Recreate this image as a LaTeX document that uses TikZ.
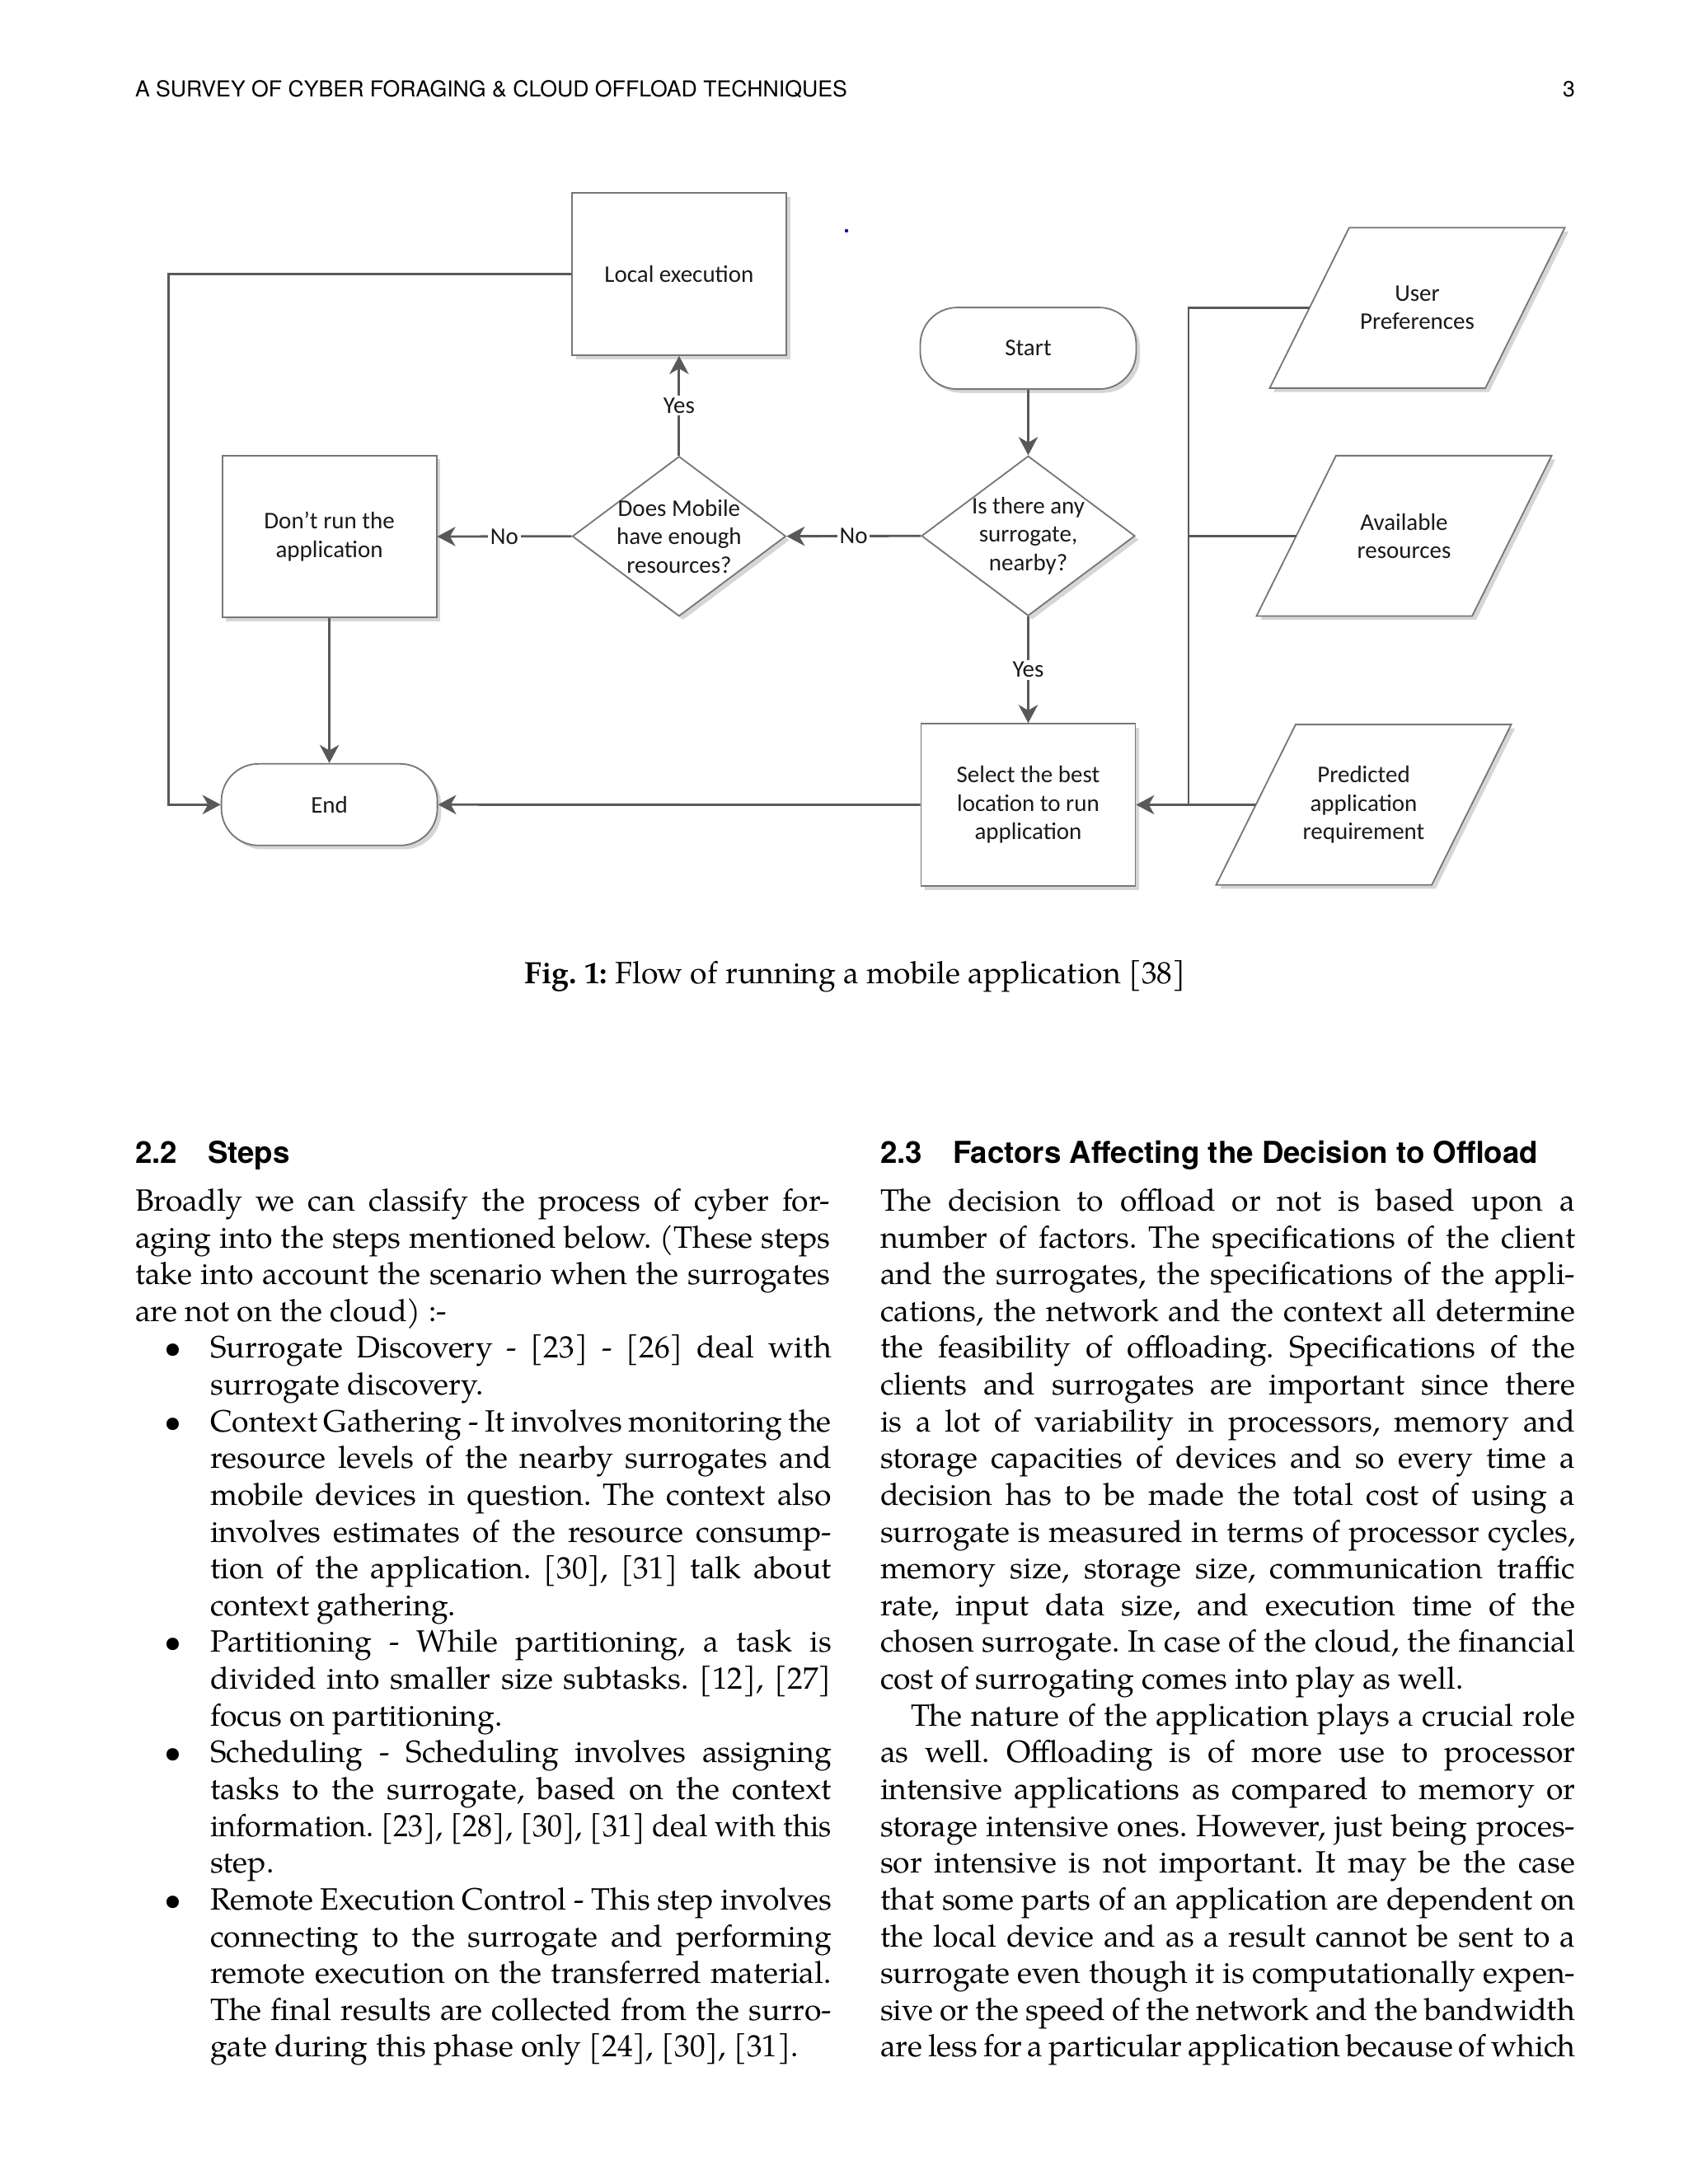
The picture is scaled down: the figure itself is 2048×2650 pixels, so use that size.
\documentclass[tikz,border=0pt]{standalone}
\usepackage{graphicx}
\usepackage{fontspec}
\setmainfont{TeX Gyre Pagella}
\newfontfamily\diafont{Carlito}
\newfontfamily\helfont{TeX Gyre Heros}
\usetikzlibrary{shapes.geometric,arrows.meta,shadows}
\definecolor{lineC}{HTML}{595959}
\definecolor{bordC}{HTML}{777777}
\definecolor{txtC}{HTML}{1A1A1A}
\definecolor{shadC}{HTML}{D6D6D6}
\frenchspacing
\tikzset{
  dfont/.style={font=\diafont\fontsize{8.7}{10.3}\selectfont, text=txtC},
  shad/.style={drop shadow={shadow xshift=1.4pt,shadow yshift=-1.4pt,fill=shadC,opacity=1}},
  procbox/.style={draw=bordC, line width=0.55pt, fill=white, shad, minimum width=78pt, minimum height=59pt, inner sep=0pt, align=center, dfont},
  termbox/.style={draw=bordC, line width=0.55pt, fill=white, shad, rounded corners=13.5pt, minimum width=78.6pt, minimum height=29.7pt, inner sep=0pt, align=center, dfont},
  decbox/.style={diamond, draw=bordC, line width=0.55pt, fill=white, shad, minimum width=77.7pt, minimum height=58.2pt, inner sep=0pt},
  dtxt/.style={align=center, dfont, inner sep=0pt},
  parabox/.style={draw=bordC, line width=0.55pt, fill=white, shad},
  conn/.style={draw=lineC, line width=0.85pt, -{Stealth[length=6.6pt,width=7pt,inset=2pt]}},
  plainconn/.style={draw=lineC, line width=0.85pt},
  lbl/.style={dfont, fill=white, inner sep=0.8pt},
  txtline/.style={anchor=base west, inner sep=0pt, outer sep=0pt, font=\fontsize{11.2}{13.4}\selectfont},
  bul/.style={anchor=base, inner sep=0pt, outer sep=0pt, font=\fontsize{11.2}{13.4}\selectfont},
  hd/.style={anchor=base west, inner sep=0pt, outer sep=0pt, font=\helfont\bfseries\fontsize{11}{13}\selectfont},
  hdr/.style={inner sep=0pt, outer sep=0pt, font=\helfont\fontsize{8}{9}\selectfont}
}
\newcommand\tl[6]{%
  \pgfmathsetmacro\yy{1469.4+44.63*#3}%
  \node[txtline] (#1) at (#2,\yy) {\makebox[#5][#4]{#6}};}
\newcommand\bl[2]{%
  \pgfmathsetmacro\yy{1469.4+44.63*#2}%
  \node[bul] (#1) at (209.5,\yy) {\textbullet};}
\newcommand\para[4]{%
  \draw[parabox] ({#2-82.6},{#3-97.3}) -- ({#2+179},{#3-97.3}) -- ({#2+82.6},{#3+97.3}) -- ({#2-179},{#3+97.3}) -- cycle;
  \coordinate (#1w) at ({#2-130.8},#3);
  \node[dtxt] (#1) at (#2,#3) {#4};}
\begin{document}
\begin{tikzpicture}[x=0.3pt,y=-0.3pt]
\useasboundingbox (0,0) rectangle (2048,2650);
\fill[white] (0,0) rectangle (2048,2650);

% header
\node[hdr, anchor=base west] (hdrtxt) at (164,117) {A SURVEY OF CYBER FORAGING \& CLOUD OFFLOAD TECHNIQUES};
\node[hdr, anchor=base east] (pgnum) at (1911,117) {3};

% ---------- flowchart ----------
\node[procbox] (local) at (823.9,332.6) {Local execution};
\node[procbox] (dont) at (399.6,651) {Don’t run the\\application};
\node[procbox] (select) at (1247.5,976.5) {Select the best\\location to run\\application};
\node[termbox] (start) at (1247.5,422.6) {Start};
\node[termbox] (end) at (399.6,976.3) {End};
\node[decbox] (d1) at (823.9,650.7) {};
\node[dtxt] (d1t) at (d1) {Does Mobile\\have enough\\resources?};
\node[decbox] (d2) at (1247.5,650.2) {};
\node[dtxt] (d2t) at (d2) {Is there any\\surrogate,\\nearby?};

\para{up}{1719.5}{373.6}{User\\Preferences}
\para{av}{1703.5}{650.2}{Available\\resources}
\para{pr}{1654.5}{976.4}{Predicted\\application\\requirement}

\coordinate (bus) at (1442,0);
\coordinate (loopx) at (204.5,0);

\draw[conn] (start.south) -- (d2.north);
\draw[conn] (d2.west) -- node[lbl] (no2) {No} (d1.east);
\draw[conn] (d1.west) -- node[lbl] (no1) {No} (dont.east);
\draw[conn] (d1.north) -- node[lbl] (yes1) {Yes} (local.south);
\draw[conn] (d2.south) -- node[lbl] (yes2) {Yes} (select.north);
\draw[conn] (dont.south) -- (end.north);
\draw[conn] (select.west) -- (end.east);
\draw[conn] (local.west) -- (local.west -| loopx) |- (end.west);
\draw[plainconn] (upw) -- (upw -| bus) -- (bus |- prw);
\draw[plainconn] (avw) -- (avw -| bus);
\draw[conn] (prw) -- (select.east);

\fill[blue!80!black] (1027,280) circle (2.2);

% caption
\node[anchor=base, inner sep=0pt, font=\fontsize{11.2}{13}\selectfont] (caption) at (1037.5,1193) {\textbf{Fig. 1:} Flow of running a mobile application [38]};

% ---------- headings ----------
\node[hd] (h22n) at (164,1411.7) {2.2};
\node[hd] (h22) at (252,1411.7) {Steps};
\node[hd] (h23n) at (1068,1411.7) {2.3};
\node[hd] (h23) at (1156,1411.7) {Factors Affecting the Decision to Offload};

% ---------- left column ----------
\tl{L0}{164}{0}{s}{253pt}{Broadly we can classify the process of cyber for-}
\tl{L1}{164}{1}{s}{253pt}{aging into the steps mentioned below. (These steps}
\tl{L2}{164}{2}{s}{253pt}{take into account the scenario when the surrogates}
\tl{L3}{164}{3}{l}{253pt}{are not on the cloud) :-}
\bl{B1}{4}
\tl{L4}{255.2}{4}{s}{226.1pt}{Surrogate Discovery - [23] - [26] deal with}
\tl{L5}{255.2}{5}{l}{226.1pt}{surrogate discovery.}
\bl{B2}{6}
\tl{L6}{255.2}{6}{s}{226.1pt}{Context Gathering - It involves monitoring the}
\tl{L7}{255.2}{7}{s}{226.1pt}{resource levels of the nearby surrogates and}
\tl{L8}{255.2}{8}{s}{226.1pt}{mobile devices in question. The context also}
\tl{L9}{255.2}{9}{s}{226.1pt}{involves estimates of the resource consump-}
\tl{L10}{255.2}{10}{s}{226.1pt}{tion of the application. [30], [31] talk about}
\tl{L11}{255.2}{11}{l}{226.1pt}{context gathering.}
\bl{B3}{12}
\tl{L12}{255.2}{12}{s}{226.1pt}{Partitioning - While partitioning, a task is}
\tl{L13}{255.2}{13}{s}{226.1pt}{divided into smaller size subtasks. [12], [27]}
\tl{L14}{255.2}{14}{l}{226.1pt}{focus on partitioning.}
\bl{B4}{15}
\tl{L15}{255.2}{15}{s}{226.1pt}{Scheduling - Scheduling involves assigning}
\tl{L16}{255.2}{16}{s}{226.1pt}{tasks to the surrogate, based on the context}
\tl{L17}{255.2}{17}{l}{226.1pt}{\resizebox{226.1pt}{\height}{information. [23], [28], [30], [31] deal with this}}
\tl{L18}{255.2}{18}{l}{226.1pt}{step.}
\bl{B5}{19}
\tl{L19}{255.2}{19}{s}{226.1pt}{Remote Execution Control - This step involves}
\tl{L20}{255.2}{20}{s}{226.1pt}{connecting to the surrogate and performing}
\tl{L21}{255.2}{21}{s}{226.1pt}{remote execution on the transferred material.}
\tl{L22}{255.2}{22}{s}{226.1pt}{The final results are collected from the surro-}
\tl{L23}{255.2}{23}{l}{226.1pt}{gate during this phase only [24], [30], [31].}

% ---------- right column ----------
\tl{R0}{1068}{0}{s}{253pt}{The decision to offload or not is based upon a}
\tl{R1}{1068}{1}{s}{253pt}{number of factors. The specifications of the client}
\tl{R2}{1068}{2}{s}{253pt}{and the surrogates, the specifications of the appli-}
\tl{R3}{1068}{3}{s}{253pt}{cations, the network and the context all determine}
\tl{R4}{1068}{4}{s}{253pt}{the feasibility of offloading. Specifications of the}
\tl{R5}{1068}{5}{s}{253pt}{clients and surrogates are important since there}
\tl{R6}{1068}{6}{s}{253pt}{is a lot of variability in processors, memory and}
\tl{R7}{1068}{7}{s}{253pt}{storage capacities of devices and so every time a}
\tl{R8}{1068}{8}{s}{253pt}{decision has to be made the total cost of using a}
\tl{R9}{1068}{9}{s}{253pt}{surrogate is measured in terms of processor cycles,}
\tl{R10}{1068}{10}{s}{253pt}{memory size, storage size, communication traffic}
\tl{R11}{1068}{11}{s}{253pt}{rate, input data size, and execution time of the}
\tl{R12}{1068}{12}{s}{253pt}{chosen surrogate. In case of the cloud, the financial}
\tl{R13}{1068}{13}{l}{253pt}{cost of surrogating comes into play as well.}
\tl{R14}{1105}{14}{s}{241.9pt}{The nature of the application plays a crucial role}
\tl{R15}{1068}{15}{s}{253pt}{as well. Offloading is of more use to processor}
\tl{R16}{1068}{16}{s}{253pt}{intensive applications as compared to memory or}
\tl{R17}{1068}{17}{s}{253pt}{storage intensive ones. However, just being proces-}
\tl{R18}{1068}{18}{s}{253pt}{sor intensive is not important. It may be the case}
\tl{R19}{1068}{19}{s}{253pt}{that some parts of an application are dependent on}
\tl{R20}{1068}{20}{s}{253pt}{the local device and as a result cannot be sent to a}
\tl{R21}{1068}{21}{s}{253pt}{surrogate even though it is computationally expen-}
\tl{R22}{1068}{22}{s}{253pt}{sive or the speed of the network and the bandwidth}
\tl{R23}{1068}{23}{s}{253pt}{are less for a particular application because of which}
\end{tikzpicture}
\end{document}
